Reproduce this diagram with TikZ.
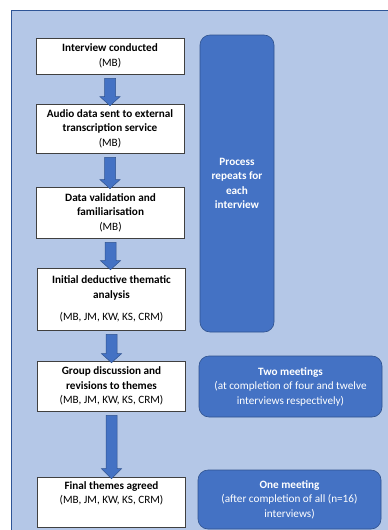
\documentclass[tikz,border=0pt]{standalone}
\usepackage{fontspec}
\setmainfont{Carlito}
\usetikzlibrary{calc}
\definecolor{panel}{HTML}{B4C7E7}
\definecolor{panelline}{HTML}{2F5597}
\definecolor{accent}{HTML}{4472C4}
\definecolor{accentline}{HTML}{2F528F}
\begin{document}
\begin{tikzpicture}[x=1pt, y=-1pt,
  stepbox/.style={draw=black!75, fill=white, line width=0.6pt, minimum width=148pt,
    align=center, inner sep=0pt, font=\fontsize{11.2}{14.5}\selectfont},
  notebox/.style={draw=accentline, fill=accent, rounded corners=10pt, line width=0.6pt,
    text=white, align=center, inner sep=0pt, font=\fontsize{11.2}{14.5}\selectfont},
  arrowfill/.style={draw=accentline, fill=accent, line width=0.5pt, line join=miter}]

  \newcommand\blockarrow[3]{% from, to, head length
    \draw[arrowfill] let \p1=($(#1.south)+(0,4)$), \p2=($(#2.north)+(0,2)$) in
      (\x1-5.5pt,\y1) -- (\x1+5.5pt,\y1) -- (\x1+5.5pt,\y2+#3) -- (\x1+10pt,\y2+#3)
      -- (\x1,\y2) -- (\x1-10pt,\y2+#3) -- (\x1-5.5pt,\y2+#3) -- cycle;}

  \useasboundingbox (0,0) rectangle (388,530);
  \draw[fill=panel, draw=panelline, line width=0.8pt] (11,10) rectangle (400,545);

  %% process steps
  \node[stepbox, minimum height=36pt] (conducted) at (110,56)
    {\textbf{Interview conducted}\\(MB)};
  \node[stepbox, minimum height=49pt] (transcribed) at (110,128.5)
    {\textbf{Audio data sent to external}\\\textbf{transcription service}\\(MB)};
  \node[stepbox, minimum height=51pt] (validated) at (110.5,212.5)
    {\textbf{Data validation and}\\\textbf{familiarisation}\\(MB)};
  \node[stepbox, minimum height=62pt] (deductive) at (111.5,299)
    {\textbf{Initial deductive thematic}\\\textbf{analysis}\\[8pt](MB, JM, KW, KS, CRM)};
  \node[stepbox, minimum height=50pt] (discussion) at (111.5,386)
    {\textbf{Group discussion and}\\\textbf{revisions to themes}\\(MB, JM, KW, KS, CRM)};
  \node[stepbox, minimum height=50pt] (agreed) at (111.5,502)
    {\textbf{Final themes agreed}\\(MB, JM, KW, KS, CRM)\\\strut};

  %% notes on the right
  \node[notebox, minimum width=74pt, minimum height=297pt] (repeats) at (237,183.5)
    {\textbf{Process}\\\textbf{repeats for}\\\textbf{each}\\\textbf{interview}};
  \node[notebox, minimum width=183pt, minimum height=61pt] (twomeet) at (290.5,386.5)
    {\textbf{Two meetings}\\(at completion of four and twelve\\interviews respectively)};
  \node[notebox, minimum width=183pt, minimum height=59pt] (onemeet) at (289.5,499.5)
    {\textbf{One meeting}\\(after completion of all (n=16)\\interviews)};

  %% arrows between steps
  \blockarrow{conducted}{transcribed}{9pt}
  \blockarrow{transcribed}{validated}{9pt}
  \blockarrow{validated}{deductive}{9pt}
  \blockarrow{deductive}{discussion}{9pt}
  \blockarrow{discussion}{agreed}{10pt}
\end{tikzpicture}
\end{document}
